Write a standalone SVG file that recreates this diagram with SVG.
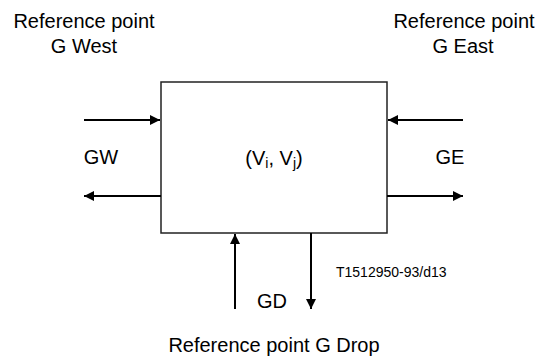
<svg xmlns="http://www.w3.org/2000/svg" width="539" height="361" viewBox="0 0 539 361">
<style>
text{font-family:"Liberation Sans",Arial,sans-serif;font-size:20px;fill:#000}
.small{font-size:14px}
.sub{font-size:14px}
.ln{stroke:#000;stroke-width:2;fill:none}
</style>
<defs>
<marker id="ah" viewBox="0 0 10 10" refX="10" refY="5" markerWidth="10" markerHeight="10" markerUnits="userSpaceOnUse" orient="auto"><path d="M0,0 L10,5 L0,10 z" fill="#000"/></marker>
</defs>
<rect width="539" height="361" fill="#fff"/>
<g id="box">
<rect x="161" y="82" width="226" height="151" fill="#fff" stroke="#222" stroke-width="1.5"/>
<text x="274" y="165" text-anchor="middle">(V<tspan class="sub" dy="3">i</tspan><tspan dy="-3">, V</tspan><tspan class="sub" dy="3">j</tspan><tspan dy="-3">)</tspan></text>
</g>
<g id="labels">
<text x="84" y="28" text-anchor="middle">Reference point</text>
<text x="84" y="53" text-anchor="middle">G West</text>
<text x="464" y="28" text-anchor="middle">Reference point</text>
<text x="463" y="53" text-anchor="middle">G East</text>
<text x="101" y="164" text-anchor="middle">GW</text>
<text x="450" y="164" text-anchor="middle">GE</text>
<text x="272" y="308" text-anchor="middle">GD</text>
<text x="274" y="352" text-anchor="middle">Reference point G Drop</text>
<text x="336" y="277" class="small">T1512950-93/d13</text>
</g>
<g id="connectors">
<line class="ln" x1="84" y1="120" x2="160" y2="120" marker-end="url(#ah)"/>
<line class="ln" x1="161" y1="196" x2="84" y2="196" marker-end="url(#ah)"/>
<line class="ln" x1="463" y1="120" x2="388" y2="120" marker-end="url(#ah)"/>
<line class="ln" x1="387" y1="196" x2="463" y2="196" marker-end="url(#ah)"/>
<line class="ln" x1="235" y1="309" x2="235" y2="234" marker-end="url(#ah)"/>
<line class="ln" x1="311" y1="233" x2="311" y2="309" marker-end="url(#ah)"/>
</g>
</svg>
